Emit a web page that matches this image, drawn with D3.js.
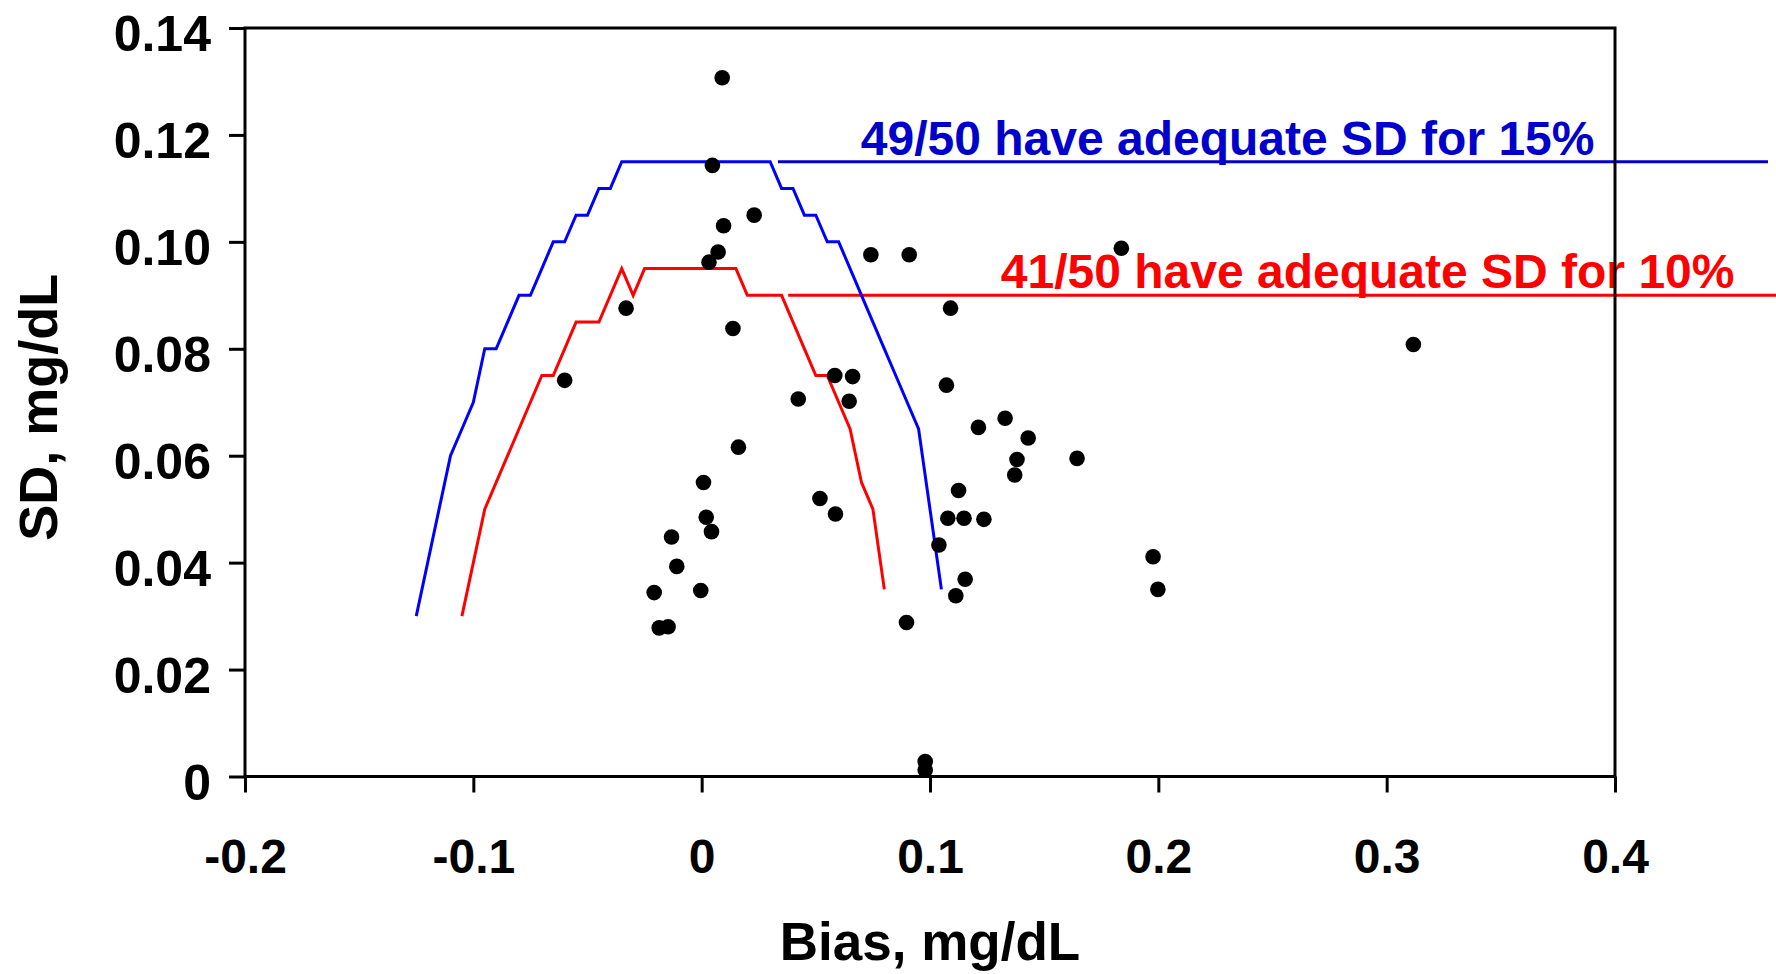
<!DOCTYPE html>
<html>
<head>
<meta charset="utf-8">
<script src="https://cdn.jsdelivr.net/npm/d3@7"></script>
<style>
body{margin:0;background:#fff;}
svg text{font-family:"Liberation Sans",Arial,sans-serif;font-weight:bold;}
</style>
</head>
<body>
<div id="chart"></div>
<script>
// measured bias / SD per lab
let biasValues = [0.0090,0.0047,0.0096,0.0230,0.0072,0.0032,0.0741,0.0909,0.1838,-0.0331,
    0.1090,0.0137,0.3117,-0.0600,0.0583,0.0661,0.1072,0.0423,0.0646,0.1329,
    0.1212,0.1430,0.1381,0.1644,0.1371,0.0161,0.0008,0.1125,0.0518,0.0586,
    0.0020,0.0043,0.1078,0.1149,0.1236,-0.0132,-0.0109,0.1039,0.1977,0.1998,
    0.1154,0.1113,-0.0208,-0.0004,-0.0186,-0.0147,0.0897,0.0979,0.0979];
let sdValues = [0.1307,0.1143,0.1030,0.1050,0.0981,0.0962,0.0976,0.0976,0.0988,0.0876,
    0.0876,0.0838,0.0808,0.0741,0.0750,0.0748,0.0732,0.0706,0.0702,0.0670,
    0.0653,0.0633,0.0593,0.0595,0.0564,0.0616,0.0550,0.0535,0.0520,0.0491,
    0.0485,0.0458,0.0483,0.0483,0.0481,0.0448,0.0393,0.0433,0.0411,0.0350,
    0.0369,0.0338,0.0344,0.0348,0.0278,0.0280,0.0288,0.0028,0.0012];

// allowable SD limit curves [bias, SD]
let limit15 = [[-0.125,0.030],[-0.120,0.040],[-0.115,0.050],[-0.110,0.060],[-0.105,0.065],
    [-0.100,0.070],[-0.095,0.080],[-0.090,0.080],[-0.085,0.085],[-0.080,0.090],[-0.075,0.090],
    [-0.070,0.095],[-0.065,0.100],[-0.060,0.100],[-0.055,0.105],[-0.050,0.105],[-0.045,0.110],
    [-0.040,0.110],[-0.035,0.115],[0.030,0.115],[0.035,0.110],[0.040,0.110],[0.045,0.105],
    [0.050,0.105],[0.055,0.100],[0.060,0.100],[0.065,0.095],[0.070,0.090],[0.075,0.085],
    [0.080,0.080],[0.085,0.075],[0.090,0.070],[0.095,0.065],[0.100,0.050],[0.105,0.035]];
let limit10 = [[-0.105,0.030],[-0.100,0.040],[-0.095,0.050],[-0.090,0.055],[-0.085,0.060],
    [-0.080,0.065],[-0.075,0.070],[-0.070,0.075],[-0.065,0.075],[-0.060,0.080],[-0.055,0.085],
    [-0.045,0.085],[-0.035,0.095],[-0.030,0.090],[-0.025,0.095],[0.015,0.095],[0.020,0.090],
    [0.035,0.090],[0.040,0.085],[0.045,0.080],[0.050,0.075],[0.055,0.075],[0.060,0.070],
    [0.065,0.065],[0.070,0.055],[0.075,0.050],[0.080,0.035]];

// horizontal cut-off lines
let cutoffSD = [0.115, 0.090];
let cutoffFrom = [0.0334, 0.0379];
let cutoffTo = [0.467, 0.476];
let cutoffLabels = ['49/50 have adequate SD for 15%', '41/50 have adequate SD for 10%'];

let xTicks = [-0.2,-0.1,0,0.1,0.2,0.3,0.4];
let xTickLabels = ['-0.2','-0.1','0','0.1','0.2','0.3','0.4'];
let yTicks = [0,0.02,0.04,0.06,0.08,0.10,0.12,0.14];
let yTickLabels = ['0','0.02','0.04','0.06','0.08','0.10','0.12','0.14'];

let W = 1776, H = 974;
let pl = 245, pr = 1615, pt = 28, pb = 776.5;

let x = d3.scaleLinear().domain([-0.2,0.4]).range([pl,pr]);
let y = d3.scaleLinear().domain([0,0.14]).range([pb,pt]);

let svg = d3.select('#chart').append('svg')
    .attr('width',W).attr('height',H);
svg.append('rect').attr('width',W).attr('height',H).attr('fill','#fff');

// cut-off lines and their labels
let cutColor = ['#0000CC','#FF0000'];
let labelStart = [0.0697, 0.1310];
cutoffSD.forEach((sd,i)=>{
    svg.append('line')
        .attr('x1',x(cutoffFrom[i])).attr('x2',x(cutoffTo[i]))
        .attr('y1',y(sd)).attr('y2',y(sd))
        .attr('stroke',cutColor[i])
        .attr('stroke-width',3);
    svg.append('text')
        .attr('x',x(labelStart[i]))
        .attr('y',y(sd)-7)
        .attr('fill',cutColor[i])
        .style('font-size','48px')
        .text(cutoffLabels[i]);
});

// axes
let gx = svg.append('g')
    .attr('transform','translate(0,'+pb+')')
    .call(d3.axisBottom(x).tickValues(xTicks)
        .tickFormat(d=>xTickLabels[xTicks.indexOf(d)])
        .tickSize(16).tickSizeOuter(0).tickPadding(46));
let gy = svg.append('g')
    .attr('transform','translate('+pl+',0)')
    .call(d3.axisLeft(y).tickValues(yTicks)
        .tickFormat(d=>yTickLabels[yTicks.indexOf(d)])
        .tickSize(16).tickSizeOuter(0).tickPadding(18));

[gx,gy].forEach(g=>{
    g.select('.domain').remove();
    g.selectAll('.tick line').attr('stroke','#000').attr('stroke-width',3);
    g.selectAll('.tick text').attr('fill','#000').style('font-size','48px');
});
gy.selectAll('.tick text').attr('dy','0.45em').style('font-size','50px');

svg.append('rect')
    .attr('x',pl).attr('y',pt)
    .attr('width',pr-pl).attr('height',pb-pt)
    .attr('fill','none')
    .attr('stroke','#000')
    .attr('stroke-width',3);

// limit curves
let line = d3.line().x(d=>x(d[0])).y(d=>y(d[1]));
svg.append('path').datum(limit15)
    .attr('d',line)
    .attr('fill','none')
    .attr('stroke','#0000FF')
    .attr('stroke-width',3);
svg.append('path').datum(limit10)
    .attr('d',line)
    .attr('fill','none')
    .attr('stroke','#FF0000')
    .attr('stroke-width',3);

// points
svg.append('g').selectAll('circle').data(biasValues)
    .enter().append('circle')
    .attr('cx',d=>x(d))
    .attr('cy',(d,i)=>y(sdValues[i]))
    .attr('r',7.8)
    .attr('fill','#000');

// axis titles
svg.append('text')
    .attr('x',(pl+pr)/2).attr('y',960)
    .attr('text-anchor','middle')
    .style('font-size','53px')
    .text('Bias, mg/dL');
svg.append('text')
    .attr('transform','translate(57,'+((pt+pb)/2+5)+') rotate(-90)')
    .attr('text-anchor','middle')
    .style('font-size','54px')
    .text('SD, mg/dL');
</script>
</body>
</html>
